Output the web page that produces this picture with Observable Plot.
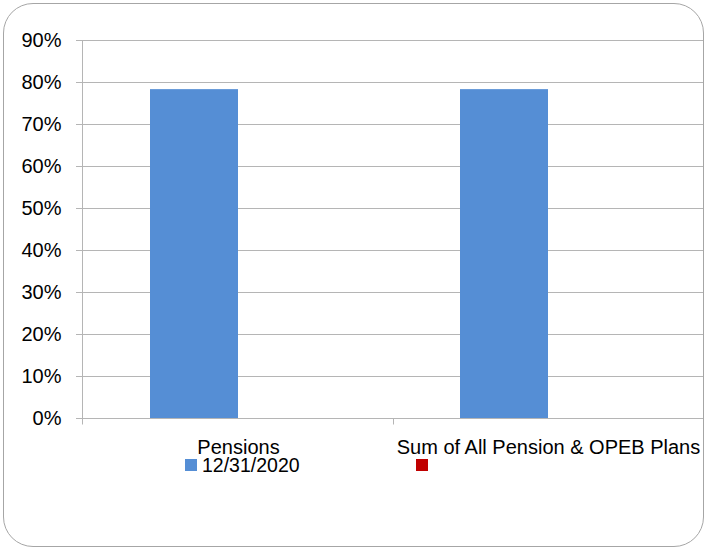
<!DOCTYPE html>
<html><head><meta charset="utf-8">
<script src="https://cdn.jsdelivr.net/npm/d3@7"></script>
<script src="https://cdn.jsdelivr.net/npm/@observablehq/plot@0.6"></script>
<style>
html,body{margin:0;padding:0;background:#fff;}
#wrap{position:relative;width:721px;height:548px;font-family:"Liberation Sans",Arial,sans-serif;color:#000;}
#frame{position:absolute;left:3px;top:3px;width:701px;height:544px;border:1px solid #a6a6a6;border-radius:30px;box-sizing:border-box;pointer-events:none;}
.leg{position:absolute;top:459px;height:12px;display:flex;align-items:center;font-size:19.5px;line-height:12px;white-space:nowrap;}
.sw{width:12px;height:12px;display:inline-block;margin-right:5px;}
svg [aria-label^="y-axis"] line, svg [aria-label^="y-axis"] path{stroke:#b5b5b5;}
</style>
</head><body>
<div id="wrap"><div id="chart"></div>
<div class="leg" id="leg0" style="left:185px"></div>
<div class="leg" id="leg1" style="left:416px"></div>
<div id="frame"></div></div>
<script>
const categories = ["Pensions", "Sum of All Pension & OPEB Plans"];
const series = ["12/31/2020", ""];
const seriesColors = ["#558ed5", "#c00000"];
const values2020 = [0.783, 0.783];
const valuesOther = [null, null];
const yTicks = [0, 0.1, 0.2, 0.3, 0.4, 0.5, 0.6, 0.7, 0.8, 0.9];

const gray = "#b5b5b5";
const data = [];
categories.forEach((c, i) => {
  data.push({category: c, series: series[0], value: values2020[i]});
  data.push({category: c, series: series[1], value: valuesOther[i]});
});
const bars = data.filter(d => d.value != null);

const chart = Plot.plot({
  width: 721,
  height: 548,
  marginLeft: 82,
  marginRight: 18,
  marginTop: 40,
  marginBottom: 130,
  style: {fontFamily: '"Liberation Sans", Arial, sans-serif', fontSize: "20px", color: "#000", background: "#fff", overflow: "visible"},
  facet: {data: bars, x: "category"},
  fx: {domain: categories, padding: 0, axis: "bottom", tickSize: 0, tickPadding: 21, label: null},
  x: {domain: series, paddingInner: 0, paddingOuter: 0.761, axis: null},
  y: {domain: [0, 0.9], ticks: yTicks, tickFormat: d3.format(".0%"), tickSize: 7, tickPadding: 15, label: null},
  color: {domain: series, range: seriesColors},
  marks: [
    Plot.ruleY(yTicks, {stroke: gray, strokeWidth: 1}),
    Plot.barY(bars, {x: "series", y: "value", fill: "series"})
  ]
});
document.getElementById("chart").appendChild(chart);

// category boundary ticks and y-axis line, from the scales
const svg = chart.tagName.toLowerCase() === "svg" ? chart : chart.querySelector("svg");
const fxs = chart.scale("fx");
const ys = chart.scale("y");
const band = d3.scaleBand().domain(fxs.domain).range(fxs.range)
  .paddingInner(fxs.paddingInner ?? 0).paddingOuter(fxs.paddingOuter ?? 0);
const y0 = Math.round(ys.range[0]) + 0.5, y1 = Math.round(ys.range[1]) + 0.5;
const xs = band.domain().map(d => band(d));
xs.push(band(band.domain()[band.domain().length - 1]) + band.bandwidth());
const g = d3.select(svg).append("g").attr("stroke", gray).attr("fill", "none");
xs.forEach(x => {
  const px = Math.round(x) + 0.5;
  g.append("line").attr("x1", px).attr("x2", px).attr("y1", y0).attr("y2", y0 + 6);
});
g.append("line").attr("x1", Math.round(xs[0]) + 0.5).attr("x2", Math.round(xs[0]) + 0.5).attr("y1", y1).attr("y2", y0);

// legend
series.forEach((s, i) => {
  const el = document.getElementById("leg" + i);
  const sw = document.createElement("span");
  sw.className = "sw"; sw.style.background = seriesColors[i];
  el.appendChild(sw);
  if (s) { const t = document.createElement("span"); t.textContent = s; el.appendChild(t); }
});
</script>
</body></html>
